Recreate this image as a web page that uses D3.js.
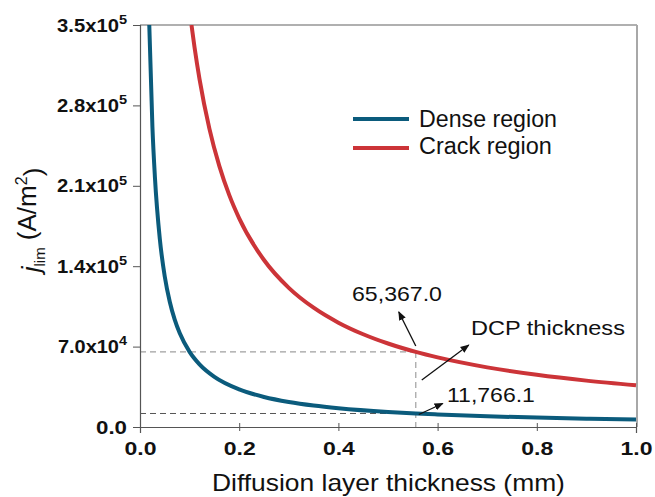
<!DOCTYPE html>
<html><head><meta charset="utf-8">
<script src="https://cdn.jsdelivr.net/npm/d3@7"></script>
<style>body{margin:0;background:#fff;}svg{display:block;font-family:"Liberation Sans",Arial,sans-serif;}</style>
</head><body>
<svg id="c" width="655" height="497"></svg>
<script>
// Data
const denseX = [0.0187,0.025,0.03,0.04,0.05,0.06,0.07,0.08,0.1,0.12,0.15,0.2,0.25,0.3,0.35,0.4,0.5,0.556,0.6,0.7,0.8,0.9,1.0];
const denseY = [350000,261680,218067,163550,130840,109033,93457,81775,65420,54517,43613,32710,26168,21807,18691,16355,13084,11766,10903,9346,8178,7269,6542];
const crackX = [0.1038,0.11,0.12,0.14,0.16,0.18,0.2,0.25,0.3,0.35,0.4,0.45,0.5,0.556,0.6,0.7,0.8,0.9,1.0];
const crackY = [350000,330400,302867,259600,227150,201911,181720,145376,121147,103840,90860,80764,72688,65367,60573,51920,45430,40382,36344];
const seriesNames = ["Dense region","Crack region"];
const xTicks = [0,0.2,0.4,0.6,0.8,1.0];
const xTickLabels = ["0.0","0.2","0.4","0.6","0.8","1.0"];
const yTicks = [0,70000,140000,210000,280000,350000];
const yTickMant = ["0.0","7.0x10","1.4x10","2.1x10","2.8x10","3.5x10"];
const yTickExp = ["","4","5","5","5","5"];
const dcpX = 0.556;
const dcpDense = 11766.1;
const dcpCrack = 65367.0;
const dcpLabels = ["65,367.0","11,766.1","DCP thickness"];

const svg = d3.select("#c");
const L=140,R=636,T=25,B=427;
const x = d3.scaleLinear().domain([0,1]).range([L,R]);
const y = d3.scaleLinear().domain([0,350000]).range([B,T]);
const blue="#0b5b7c", red="#cc3438";

function stretch(sel, w, ax){
  const n = sel.node(); const bw = n.getBBox().width;
  const k = w / bw;
  sel.attr("transform", `translate(${ax},0) scale(${k},1) translate(${-ax},0)`);
}

// frame top/right
svg.append("line").attr("x1",L).attr("x2",R+1).attr("y1",T).attr("y2",T).attr("stroke","#b0b0b0").attr("stroke-width",2);
svg.append("line").attr("x1",R+1).attr("x2",R+1).attr("y1",T).attr("y2",B).attr("stroke","#a8a8a8").attr("stroke-width",2);

// dashed guides
svg.append("line").attr("x1",L).attr("x2",x(dcpX)).attr("y1",y(dcpCrack)).attr("y2",y(dcpCrack))
  .attr("stroke","#a0a0a0").attr("stroke-width",1.2).attr("stroke-dasharray","6,4");
svg.append("line").attr("x1",x(dcpX)).attr("x2",x(dcpX)).attr("y1",y(dcpCrack)).attr("y2",B)
  .attr("stroke","#a0a0a0").attr("stroke-width",1.2).attr("stroke-dasharray","6,4");
svg.append("line").attr("x1",L).attr("x2",x(dcpX)).attr("y1",y(dcpDense)).attr("y2",y(dcpDense))
  .attr("stroke","#555").attr("stroke-width",1).attr("stroke-dasharray","6,4");

// axes
const xAxis = svg.append("g").attr("transform",`translate(0,${B})`)
  .call(d3.axisBottom(x).tickValues(xTicks).tickSize(6).tickFormat((d,i)=>xTickLabels[i]));
xAxis.selectAll(".tick line").attr("y1",-4).attr("y2",4).attr("stroke","#555");
xAxis.select(".domain").attr("stroke","#555").attr("stroke-width",1.2);
xAxis.selectAll(".tick text").attr("font-size",18).attr("font-weight","bold").attr("fill","#111")
  .attr("y",28).attr("dy",null).each(function(){ stretch(d3.select(this),32,0); });

const yAxis = svg.append("g").attr("transform",`translate(${L},0)`)
  .call(d3.axisLeft(y).tickValues(yTicks).tickSize(7).tickFormat(""));
yAxis.selectAll(".tick line").attr("stroke","#555");
yAxis.select(".domain").attr("stroke","#555").attr("stroke-width",1.2);
yAxis.selectAll(".tick").each(function(d,i){
  const t = d3.select(this).append("text").attr("x",-13).attr("y",6)
    .attr("text-anchor","end").attr("font-size",18).attr("font-weight","bold").attr("fill","#111");
  t.append("tspan").text(yTickMant[i]);
  if (yTickExp[i]) t.append("tspan").attr("font-size",13).attr("dy","-0.6em").text(yTickExp[i]);
  stretch(t, i===0 ? 31 : 70, -13);
});

// lines
const line = d3.line().x(d=>x(d[0])).y(d=>y(d[1])).curve(d3.curveMonotoneX);
svg.append("clipPath").attr("id","cp").append("rect").attr("x",L).attr("y",T).attr("width",R-L+2).attr("height",B-T);
svg.append("path").datum(denseX.map((v,i)=>[v,denseY[i]])).attr("d",line)
  .attr("fill","none").attr("stroke",blue).attr("stroke-width",4).attr("clip-path","url(#cp)");
svg.append("path").datum(crackX.map((v,i)=>[v,crackY[i]])).attr("d",line)
  .attr("fill","none").attr("stroke",red).attr("stroke-width",4).attr("clip-path","url(#cp)");

// legend
[[blue,119,127,138],[red,148,154,133]].forEach((c,i)=>{
  svg.append("line").attr("x1",353).attr("x2",409).attr("y1",c[1]).attr("y2",c[1]).attr("stroke",c[0]).attr("stroke-width",4);
  const t = svg.append("text").attr("x",419).attr("y",c[2]).attr("font-size",23).attr("fill","#111").text(seriesNames[i]);
  stretch(t, c[3], 419);
});

// arrows
const defs = svg.append("defs");
defs.append("marker").attr("id","ah").attr("viewBox","0 0 10 10").attr("refX",9).attr("refY",5)
  .attr("markerWidth",7).attr("markerHeight",7).attr("orient","auto")
  .append("path").attr("d","M0,1 L10,5 L0,9 Z").attr("fill","#111");
function arrow(x1,y1,x2,y2){
  svg.append("line").attr("x1",x1).attr("y1",y1).attr("x2",x2).attr("y2",y2)
    .attr("stroke","#111").attr("stroke-width",1.3).attr("marker-end","url(#ah)");
}
const px = x(dcpX);
arrow(px,y(dcpCrack)-6,px-17,y(dcpCrack)-40);
arrow(px+6,y(dcpCrack)+28,px+53,y(dcpCrack)-7);
arrow(px+3,y(dcpDense)+1,px+27,y(dcpDense)-10);
[[352,301,90],[447,402,88],[471,335,154]].forEach((p,i)=>{
  const t = svg.append("text").attr("x",p[0]).attr("y",p[1]).attr("font-size",21).attr("fill","#111").text(dcpLabels[i]);
  stretch(t, p[2], p[0]);
});

// axis titles
const xt = svg.append("text").attr("x",212).attr("y",491).attr("font-size",23).attr("fill","#111")
  .text("Diffusion layer thickness (mm)");
stretch(xt, 353, 212);
const yt = svg.append("text").attr("transform","translate(40,220) rotate(-90)").attr("text-anchor","middle")
  .attr("font-size",26).attr("fill","#111");
yt.append("tspan").attr("font-style","italic").text("j");
yt.append("tspan").attr("font-size",15).attr("dy","0.35em").text("lim");
yt.append("tspan").attr("dy","-0.35em").text(" (A/m");
yt.append("tspan").attr("font-size",16).attr("dy","-0.55em").text("2");
yt.append("tspan").attr("dy","0.55em").text(")");
</script>
</body></html>
